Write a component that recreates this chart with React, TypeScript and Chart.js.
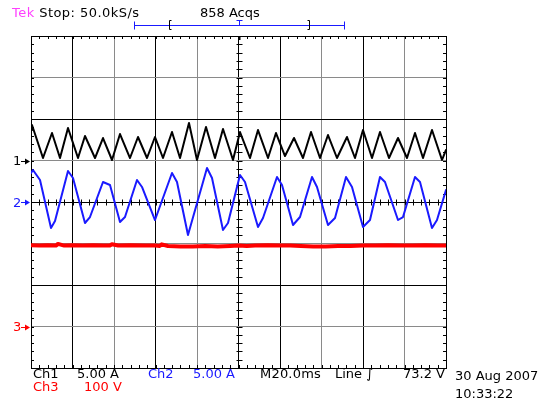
import React, { useEffect, useRef } from 'react';
import { Chart, registerables } from 'chart.js';

Chart.register(...registerables);

// ---- Scope settings ----
const TIME_MAX_MS = 200; // 10 div x 20 ms
const DIV_MIN = -4;
const DIV_MAX = 4;
const CH1_POS = 1; // div
const CH1_SCALE = 5; // A/div
const CH2_POS = 0;
const CH2_SCALE = 5; // A/div
const CH3_POS = -3;
const CH3_SCALE = 100; // V/div

// ---- Ch1 (black) current, A ----
const ch1Time = [0, 0.48, 5.78, 10.12, 13.98, 17.83, 22.65, 26.02, 30.84, 34.7, 39.04, 42.89, 47.71, 51.57, 55.9, 59.76, 63.61, 67.95, 71.81, 76.14, 80.0, 84.34, 88.67, 92.53, 97.35, 100.72, 105.54, 109.4, 114.22, 118.07, 122.41, 126.75, 131.08, 134.94, 139.28, 143.13, 147.47, 152.29, 156.14, 160.0, 164.34, 168.19, 172.53, 176.87, 181.2, 185.06, 188.92, 193.25, 198.07, 200];
const ch1Amps = [3.67, 4.28, 0.3, 3.31, 0.3, 3.92, 0.3, 2.95, 0.3, 2.71, 0.06, 3.19, 0.3, 2.83, 0.3, 2.83, 0.3, 3.43, 0.3, 4.52, 0.06, 4.04, 0.3, 3.8, 0.06, 3.43, 0.3, 3.67, 0.3, 3.31, 0.54, 2.71, 0.3, 3.43, 0.3, 3.07, 0.3, 2.83, 0.3, 3.67, 0.3, 3.43, 0.3, 2.71, 0.3, 3.31, 0.3, 3.67, 0.06, 1.27];

// ---- Ch2 (blue) current, A ----
const ch2Time = [0, 0.96, 4.34, 9.64, 11.57, 17.83, 20.24, 26.02, 28.43, 34.7, 38.07, 42.89, 45.3, 51.08, 53.49, 59.76, 67.95, 70.36, 75.66, 84.82, 87.23, 92.53, 94.94, 100.72, 103.13, 109.4, 111.81, 118.55, 120.96, 126.27, 129.64, 135.42, 137.83, 143.13, 146.51, 151.81, 154.7, 160.0, 163.37, 168.19, 170.6, 176.87, 179.28, 185.06, 187.47, 193.25, 195.66, 200];
const ch2Amps = [3.49, 3.86, 2.65, -3.13, -2.29, 3.73, 2.89, -2.53, -1.81, 2.41, 2.05, -2.41, -1.81, 2.65, 1.81, -2.17, 3.49, 2.41, -3.98, 4.1, 2.89, -3.37, -2.53, 3.25, 2.41, -3.01, -1.93, 3.01, 2.05, -2.77, -1.81, 3.01, 1.81, -2.77, -1.93, 3.01, 1.81, -3.01, -2.17, 3.01, 2.41, -2.17, -1.81, 3.01, 2.41, -3.13, -2.17, 1.45];

// ---- Ch3 (red) voltage, V ----
const ch3Time = [0, 4, 8, 12, 13, 16, 20, 25, 30, 35, 38, 39, 42, 48, 55, 60, 62, 63, 66, 72, 78, 84, 90, 96, 100, 104, 108, 114, 120, 125, 130, 136, 142, 148, 154, 160, 166, 172, 178, 184, 190, 196, 200];
const ch3Volts = [196, 195, 196, 195, 199, 195, 196, 195, 196, 195, 195, 198, 195, 196, 195, 195, 194, 198, 194, 193, 193, 194, 193, 194, 195, 194, 195, 196, 195, 195, 194, 193, 193, 194, 194, 195, 195, 196, 195, 195, 196, 195, 195];

// ---- Colours ----
const BLACK = '#000000';
const BLUE = '#1a1aff';
const RED = '#ff0000';
const MAGENTA = '#ff40ff';
const GREY = '#8a8a8a';

const toPoints = (t: number[], v: number[], pos: number, scale: number) =>
  t.map((x, i) => ({ x, y: pos + v[i] / scale }));

const scopePlugin = {
  id: 'scopeDecor',
  beforeDatasetsDraw(chart: any) {
    const { ctx, chartArea } = chart;
    const xs = chart.scales.x;
    const ys = chart.scales.y;
    const { left, right, top, bottom } = chartArea;
    const cx = Math.round(xs.getPixelForValue(TIME_MAX_MS / 2)) + 0.5;
    const cy = Math.round(ys.getPixelForValue(0)) + 0.5;
    ctx.save();
    ctx.strokeStyle = BLACK;
    ctx.lineWidth = 1;
    ctx.beginPath();
    for (let k = 0; k <= 50; k++) {
      const px = Math.round(xs.getPixelForValue((k * TIME_MAX_MS) / 50)) + 0.5;
      ctx.moveTo(px, top);
      ctx.lineTo(px, top + 3);
      ctx.moveTo(px, bottom);
      ctx.lineTo(px, bottom - 3);
      ctx.moveTo(px, cy - 3);
      ctx.lineTo(px, cy + 3);
    }
    for (let k = 0; k <= 40; k++) {
      const py = Math.round(ys.getPixelForValue(DIV_MIN + k * 0.2)) + 0.5;
      ctx.moveTo(left, py);
      ctx.lineTo(left + 3, py);
      ctx.moveTo(right, py);
      ctx.lineTo(right - 3, py);
      ctx.moveTo(cx - 3, py);
      ctx.lineTo(cx + 3, py);
    }
    ctx.stroke();
    ctx.strokeRect(Math.round(left) + 0.5, Math.round(top) + 0.5, Math.round(right - left), Math.round(bottom - top));
    ctx.restore();
  },
  afterDraw(chart: any) {
    const { ctx, chartArea } = chart;
    const xs = chart.scales.x;
    const ys = chart.scales.y;
    const left = Math.round(chartArea.left);
    ctx.save();
    // channel ground markers
    const markers = [
      { pos: CH1_POS, color: BLACK },
      { pos: CH2_POS, color: BLUE },
      { pos: CH3_POS, color: RED },
    ];
    markers.forEach((m) => {
      const y = Math.round(ys.getPixelForValue(m.pos)) + 0.5;
      ctx.strokeStyle = m.color;
      ctx.fillStyle = m.color;
      ctx.lineWidth = 1;
      ctx.beginPath();
      ctx.moveTo(left - 10, y);
      ctx.lineTo(left - 5, y);
      ctx.stroke();
      ctx.beginPath();
      ctx.moveTo(left - 6, y - 3);
      ctx.lineTo(left - 1, y);
      ctx.lineTo(left - 6, y + 3);
      ctx.closePath();
      ctx.fill();
    });
    // trigger bar at top
    const cx = Math.round(xs.getPixelForValue(TIME_MAX_MS / 2)) + 0.5;
    const w = chartArea.right - chartArea.left;
    const barHalf = Math.round(w * 0.252);
    const brHalf = Math.round(w * 0.1675);
    const by = 25.5;
    ctx.strokeStyle = BLUE;
    ctx.lineWidth = 1;
    ctx.beginPath();
    ctx.moveTo(cx - barHalf, by);
    ctx.lineTo(cx + barHalf, by);
    ctx.moveTo(cx - barHalf, by - 4);
    ctx.lineTo(cx - barHalf, by + 4);
    ctx.moveTo(cx + barHalf, by - 4);
    ctx.lineTo(cx + barHalf, by + 4);
    ctx.moveTo(cx - 3, by - 5);
    ctx.lineTo(cx + 3, by - 5);
    ctx.moveTo(cx, by - 5);
    ctx.lineTo(cx, by);
    ctx.stroke();
    ctx.strokeStyle = BLACK;
    ctx.beginPath();
    ctx.moveTo(cx - brHalf + 2, by - 5);
    ctx.lineTo(cx - brHalf, by - 5);
    ctx.lineTo(cx - brHalf, by + 4);
    ctx.lineTo(cx - brHalf + 2, by + 4);
    ctx.moveTo(cx + brHalf - 2, by - 5);
    ctx.lineTo(cx + brHalf, by - 5);
    ctx.lineTo(cx + brHalf, by + 4);
    ctx.lineTo(cx + brHalf - 2, by + 4);
    ctx.stroke();
    // trigger position mark on top border
    ctx.fillStyle = BLACK;
    ctx.fillRect(cx - 1, Math.round(chartArea.top), 2, 4);
    ctx.restore();
  },
};

const X_BLACK = new Set([0, 1, 3, 5, 6, 8, 10]);

type Label = { text: React.ReactNode; left: number; top: number; color?: string; spacing?: number };
const labels: Label[] = [
  { text: <><span style={{ color: MAGENTA }}>Tek</span> Stop: 50.0kS/s</>, left: 12, top: 6, spacing: 0.45 },
  { text: '858 Acqs', left: 200, top: 6 },
  { text: '1', left: 13, top: 154, color: BLACK },
  { text: '2', left: 13, top: 196, color: BLUE },
  { text: '3', left: 13, top: 320, color: RED },
  { text: 'Ch1', left: 33, top: 367 },
  { text: '5.00 A', left: 77, top: 367 },
  { text: 'Ch2', left: 148, top: 367, color: BLUE },
  { text: '5.00 A', left: 193, top: 367, color: BLUE },
  { text: 'M20.0ms', left: 260, top: 367, spacing: 0.2 },
  { text: 'Line \u222B', left: 335, top: 367 },
  { text: '73.2 V', left: 403, top: 367 },
  { text: 'Ch3', left: 33, top: 380, color: RED },
  { text: '100 V', left: 84, top: 380, color: RED },
  { text: '30 Aug 2007', left: 455, top: 369 },
  { text: '10:33:22', left: 455, top: 387 },
];

export default function App() {
  const ref = useRef<HTMLCanvasElement>(null);
  useEffect(() => {
    const chart = new Chart(ref.current as HTMLCanvasElement, {
      type: 'line',
      data: {
        datasets: [
          {
            label: 'Ch3',
            data: toPoints(ch3Time, ch3Volts, CH3_POS, CH3_SCALE),
            borderColor: RED,
            borderWidth: 4,
            pointRadius: 0,
            tension: 0,
          },
          {
            label: 'Ch2',
            data: toPoints(ch2Time, ch2Amps, CH2_POS, CH2_SCALE),
            borderColor: BLUE,
            borderWidth: 2,
            pointRadius: 0,
            tension: 0,
          },
          {
            label: 'Ch1',
            data: toPoints(ch1Time, ch1Amps, CH1_POS, CH1_SCALE),
            borderColor: BLACK,
            borderWidth: 2,
            pointRadius: 0,
            tension: 0,
          },
        ],
      },
      options: {
        responsive: false,
        maintainAspectRatio: false,
        devicePixelRatio: 1,
        animation: false,
        layout: { padding: { left: 31, top: 36, right: 92, bottom: 36 } },
        plugins: { legend: { display: false }, tooltip: { enabled: false } },
        elements: { line: { borderJoinStyle: 'round', borderCapStyle: 'round' } },
        scales: {
          x: {
            type: 'linear',
            min: 0,
            max: TIME_MAX_MS,
            ticks: { display: false, stepSize: 20 },
            grid: {
              drawTicks: false,
              lineWidth: 1,
              color: (c: any) => (X_BLACK.has(c.index) ? BLACK : GREY),
            },
            border: { display: false },
          },
          y: {
            type: 'linear',
            min: DIV_MIN,
            max: DIV_MAX,
            ticks: { display: false, stepSize: 1 },
            grid: {
              drawTicks: false,
              lineWidth: 1,
              color: (c: any) => (c.index % 2 === 1 ? GREY : BLACK),
            },
            border: { display: false },
          },
        },
      },
      plugins: [scopePlugin],
    } as any);
    return () => chart.destroy();
  }, []);

  return (
    <div
      style={{
        position: 'fixed',
        left: 0,
        top: 0,
        width: 538,
        height: 404,
        background: '#fff',
        fontFamily: '"DejaVu Sans", sans-serif',
        fontSize: 13,
        lineHeight: '13px',
        color: BLACK,
        overflow: 'hidden',
      }}
    >
      <canvas ref={ref} width={538} height={404} style={{ position: 'absolute', left: 0, top: 0, width: 538, height: 404 }} />
      {labels.map((l, i) => (
        <div
          key={i}
          style={{
            position: 'absolute',
            left: l.left,
            top: l.top,
            color: l.color || BLACK,
            whiteSpace: 'nowrap',
            letterSpacing: l.spacing ? `${l.spacing}px` : undefined,
          }}
        >
          {l.text}
        </div>
      ))}
    </div>
  );
}
